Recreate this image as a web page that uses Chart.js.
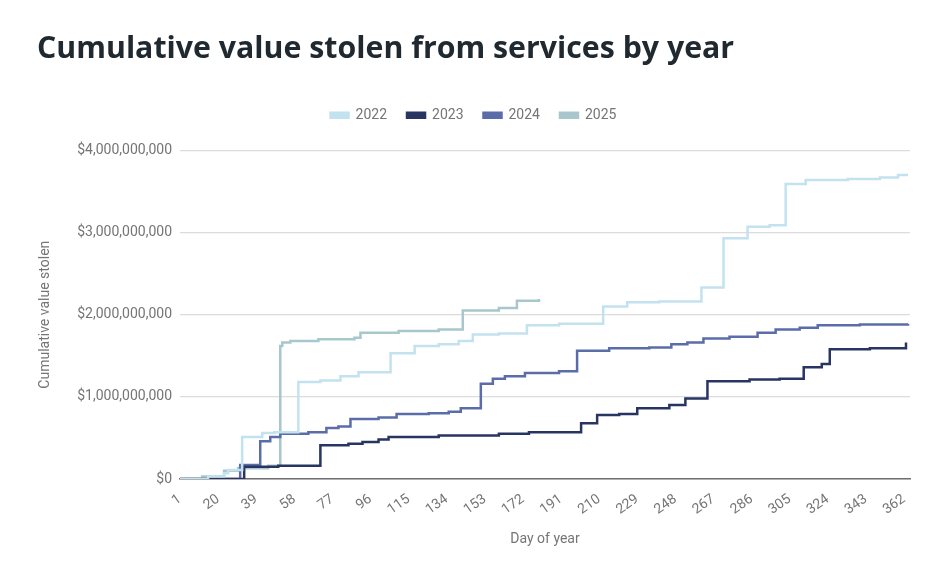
<!DOCTYPE html>
<html>
<head>
<meta charset="utf-8">
<script src="https://cdn.jsdelivr.net/npm/chart.js@4.4.1/dist/chart.umd.min.js"></script>
<style>
    html, body {
        margin: 0;
        padding: 0;
        background: #ffffff;
    }

    #chartWrap {
        position: relative;
        width: 947px;
        height: 578px;
    }
</style>
</head>
<body>
<div id="chartWrap">
    <canvas id="theftChart" width="947" height="578"></canvas>
</div>
<script>
// values are in billions of dollars, days are day of year
const days2022 = [1, 15, 23, 25, 32, 42, 48, 60, 71, 81, 90, 106, 118, 130, 140, 147, 160, 174, 190, 212, 224, 240, 261, 272, 284, 295, 303, 313, 334, 350, 359, 364];
const values2022 = [0, 0.03, 0.07, 0.11, 0.51, 0.56, 0.57, 1.18, 1.20, 1.25, 1.30, 1.53, 1.62, 1.64, 1.68, 1.76, 1.77, 1.87, 1.89, 2.10, 2.15, 2.16, 2.33, 2.93, 3.07, 3.09, 3.59, 3.64, 3.65, 3.67, 3.70, 3.70];

const days2023 = [1, 33, 50, 71, 85, 92, 100, 105, 130, 160, 175, 201, 209, 220, 229, 245, 253, 264, 285, 300, 312, 321, 325, 345, 363];
const values2023 = [0, 0.15, 0.16, 0.41, 0.43, 0.45, 0.48, 0.51, 0.53, 0.55, 0.57, 0.68, 0.78, 0.79, 0.86, 0.90, 0.98, 1.19, 1.21, 1.22, 1.36, 1.40, 1.58, 1.59, 1.66];

const days2024 = [1, 31, 41, 46, 51, 65, 74, 80, 86, 100, 109, 125, 135, 141, 151, 157, 163, 173, 190, 199, 215, 235, 246, 254, 262, 275, 289, 298, 310, 319, 340, 364];
const values2024 = [0, 0.17, 0.46, 0.51, 0.55, 0.57, 0.62, 0.64, 0.73, 0.75, 0.79, 0.80, 0.82, 0.86, 1.16, 1.22, 1.25, 1.29, 1.31, 1.56, 1.59, 1.60, 1.64, 1.66, 1.71, 1.73, 1.78, 1.82, 1.84, 1.87, 1.88, 1.89];

const days2025 = [1, 12, 23, 30, 45, 51, 52, 56, 70, 88, 91, 110, 130, 142, 160, 169, 180];
const values2025 = [0, 0.03, 0.10, 0.13, 0.16, 1.62, 1.66, 1.68, 1.70, 1.72, 1.78, 1.80, 1.82, 2.05, 2.08, 2.17, 2.19];

const dayTicks = [1, 20, 39, 58, 77, 96, 115, 134, 153, 172, 191, 210, 229, 248, 267, 286, 305, 324, 343, 362];
const valueTicks = [0, 1, 2, 3, 4];

const seriesNames = ["2022", "2023", "2024", "2025"];
const seriesColors = ["#c3e2ef", "#283462", "#5b6da9", "#a7c7cd"];

const toPoints = (days, values) => {
    const points = [];

    for (let i = 0; i < days.length; i++) {
        points.push({ x: days[i], y: values[i] });
    }

    return points;
};

const allDays = [days2022, days2023, days2024, days2025];
const allValues = [values2022, values2023, values2024, values2025];

const datasets = [];

for (let i = 0; i < seriesNames.length; i++) {
    datasets.push({
        label: seriesNames[i],
        data: toPoints(allDays[i], allValues[i]),
        borderColor: seriesColors[i],
        backgroundColor: seriesColors[i],
        borderWidth: 2.5,
        stepped: true,
        pointRadius: 0,
        fill: false
    });
}

const formatDollars = (billions) => {
    return "$" + (billions * 1e9).toLocaleString("en-US");
};

// adds some room under the legend
const legendGap = {
    id: "legendGap",
    beforeInit(chart) {
        const originalFit = chart.legend.fit;
        chart.legend.fit = function fit() {
            originalFit.bind(chart.legend)();
            this.height += 18;
        };
    }
};

Chart.defaults.font.family = "Roboto, 'Noto Sans', sans-serif";
Chart.defaults.color = "#757575";

new Chart(document.querySelector("#theftChart"), {
    type: "line",
    data: {
        datasets: datasets
    },
    plugins: [legendGap],
    options: {
        responsive: false,
        animation: false,
        layout: {
            padding: { left: 37, right: 37, top: 0, bottom: 20 }
        },
        plugins: {
            title: {
                display: true,
                text: "Cumulative value stolen from services by year",
                align: "start",
                color: "#1f292f",
                font: { family: "'Open Sans', sans-serif", size: 30.3, weight: "bold" },
                padding: { top: 31, bottom: 21 }
            },
            legend: {
                display: true,
                position: "top",
                labels: {
                    boxWidth: 18,
                    boxHeight: 5,
                    padding: 20,
                    color: "#757575",
                    font: { size: 14 }
                }
            },
            tooltip: { enabled: false }
        },
        scales: {
            x: {
                type: "linear",
                min: 1,
                max: 365,
                afterBuildTicks: (scale) => {
                    scale.ticks = dayTicks.map((d) => ({ value: d }));
                },
                afterFit: (scale) => {
                    scale.height = 79;
                },
                ticks: {
                    minRotation: 35,
                    maxRotation: 35,
                    padding: 4,
                    color: "#757575",
                    font: { size: 14 }
                },
                grid: { display: false },
                border: { display: true, color: "#6f6f6f", width: 1.5 },
                title: {
                    display: true,
                    text: "Day of year",
                    color: "#757575",
                    font: { size: 14 },
                    padding: { top: 4, bottom: 10 }
                }
            },
            y: {
                type: "linear",
                min: 0,
                max: 4,
                afterBuildTicks: (scale) => {
                    scale.ticks = valueTicks.map((v) => ({ value: v }));
                },
                afterFit: (scale) => {
                    scale.width = 143;
                },
                ticks: {
                    padding: 8,
                    color: "#757575",
                    font: { size: 14 },
                    callback: (value) => formatDollars(value)
                },
                grid: {
                    color: "#dcdcdc",
                    lineWidth: 1.2,
                    drawTicks: false
                },
                border: { display: false },
                title: {
                    display: true,
                    text: "Cumulative value stolen",
                    color: "#757575",
                    font: { size: 14 },
                    padding: { top: 0, bottom: 0 }
                }
            }
        }
    }
});
</script>
</body>
</html>
